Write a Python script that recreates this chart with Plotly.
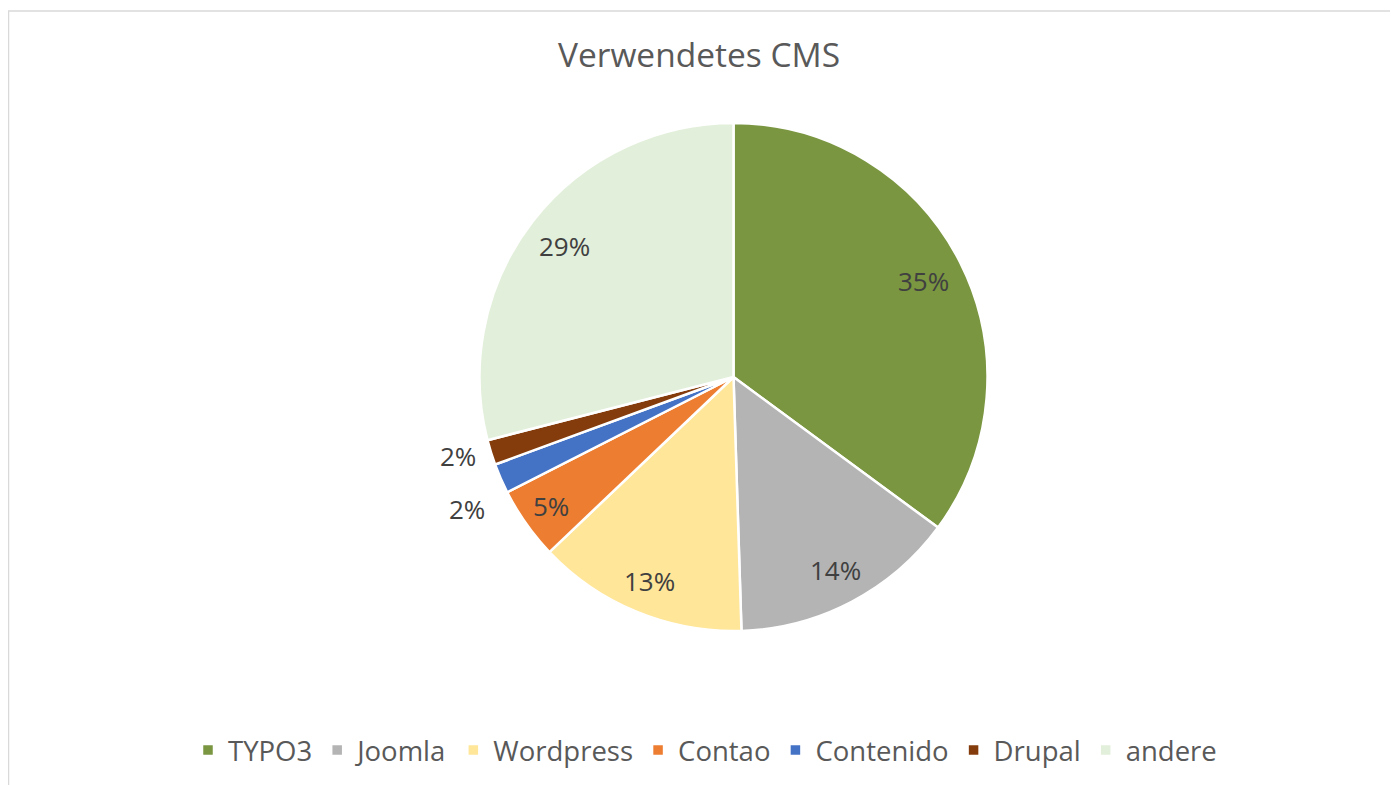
import math
import plotly.graph_objects as go

categories = ["TYPO3", "Joomla", "Wordpress", "Contao", "Contenido", "Drupal", "andere"]
values = [35.1, 14.4, 13.4, 4.6, 1.9, 1.6, 29.0]
colors = ["#7a9640", "#b4b4b4", "#ffe699", "#ed7d31", "#4472c4", "#843c0c", "#e2efda"]
# label placement (style): radius as a fraction of the pie radius, small angular nudge in degrees
label_radius = [0.84, 0.86, 0.87, 0.88, 1.17, 1.13, 0.84]
label_nudge = [0, 0, 0, 0, -2.7, 1.3, 0]

# page has an 8px body margin; the figure fills the rest of the 1398x785 window
OFF = 8
W, H = 1398 - OFF, 785 - OFF
cx, cy, r = 733.5 - OFF, 377 - OFF, 254

fig = go.Figure(go.Pie(
    labels=categories,
    values=values,
    sort=False,
    direction="clockwise",
    rotation=0,
    marker=dict(colors=colors, line=dict(color="white", width=2.5)),
    textinfo="none",
    hoverinfo="label+percent",
    domain=dict(x=[(cx - r) / W, (cx + r) / W], y=[(H - cy - r) / H, (H - cy + r) / H]),
))

# data labels placed at each slice's mid-angle (Excel "best fit" style)
total = sum(values)
annotations = []
cum = 0.0
for v, k, nudge in zip(values, label_radius, label_nudge):
    mid = (cum + v / 2) / total * 2 * math.pi + math.radians(nudge)
    cum += v
    px = cx + k * r * math.sin(mid)
    py = cy - k * r * math.cos(mid)
    annotations.append(dict(
        x=px / W, y=1 - py / H, xref="paper", yref="paper",
        text=f"{round(v / total * 100)}%", showarrow=False,
        xanchor="center", yanchor="middle",
        font=dict(family="Open Sans", size=26, color="#404040"),
    ))

fig.update_layout(
    width=W, height=H,
    margin=dict(l=0, r=0, t=0, b=0),
    paper_bgcolor="white",
    title=dict(text="Verwendetes CMS", x=(699 - OFF) / W, xanchor="center", y=1 - (55 - OFF) / H, yanchor="middle",
               font=dict(family="Open Sans", size=33.5, color="#595959")),
    legend=dict(orientation="h", x=(705 - OFF) / W, xanchor="center", y=1 - (750 - OFF) / H, yanchor="middle",
                font=dict(family="Open Sans", size=27.5, color="#595959"),
                itemclick=False, traceorder="normal"),
    annotations=annotations,
    shapes=[dict(type="rect", xref="paper", yref="paper", x0=0.5 / W, x1=(1392 - OFF) / W, y0=-0.05,
                 y1=1 - (11 - OFF) / H,
                 line=dict(color="#d9d9d9", width=1.5), fillcolor="rgba(0,0,0,0)")],
)

fig.write_html("out.html")
